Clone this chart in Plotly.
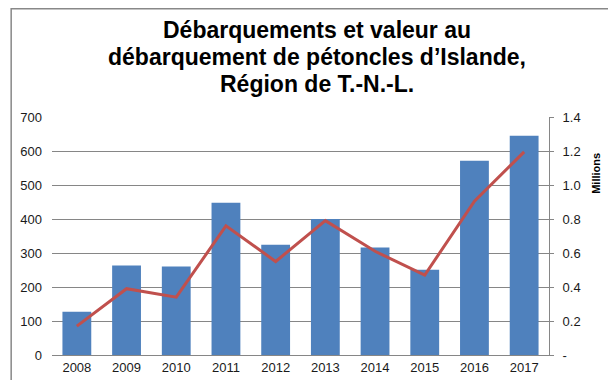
import plotly.graph_objects as go

years = ["2008", "2009", "2010", "2011", "2012", "2013", "2014", "2015", "2016", "2017"]
landings = [127, 263, 260, 448, 324, 400, 316, 251, 571, 645]
value_millions = [0.17, 0.39, 0.34, 0.76, 0.55, 0.79, 0.61, 0.47, 0.905, 1.195]
left_ticks = [0, 100, 200, 300, 400, 500, 600, 700]
right_ticks = [0, 0.2, 0.4, 0.6, 0.8, 1.0, 1.2, 1.4]
right_ticktext = ["-", "0.2", "0.4", "0.6", "0.8", "1.0", "1.2", "1.4"]
title_lines = ["Débarquements et valeur au",
               "débarquement de pétoncles d’Islande,",
               "Région de T.-N.-L."]

W, H = 616, 380
L, R, T, B = 42, 75, 109, 33
pw, ph = W - L - R, H - T - B


def px_x(x):
    return (x - L) / pw


def px_y(y):
    return (H - B - y) / ph


fig = go.Figure()
fig.add_trace(go.Bar(x=years, y=landings, marker=dict(color="#4F81BD", line=dict(width=0)),
                     yaxis="y", showlegend=False))
fig.add_trace(go.Scatter(x=years, y=value_millions, mode="lines",
                         line=dict(color="#C0504D", width=3), yaxis="y2", showlegend=False))

fam = "Liberation Sans, Arial, sans-serif"
font = dict(family=fam, size=13, color="#1a1a1a")

title_size = 23
title_baselines = [30.0, 57.0, 84.0]
annotations = []
for line, base in zip(title_lines, title_baselines):
    annotations.append(dict(text="<b>" + line + "</b>", xref="paper", yref="paper",
                            x=px_x(308), y=px_y(base - 0.36 * title_size),
                            xanchor="center", yanchor="middle", showarrow=False,
                            font=dict(family=fam, size=title_size, color="#000000")))
annotations.append(dict(text="<b>Millions</b>", textangle=-90, xref="paper", yref="paper",
                        x=px_x(588), y=px_y(165), xanchor="center", yanchor="middle",
                        showarrow=False,
                        font=dict(family=fam, size=11, color="#000000")))

fig.update_layout(
    width=W, height=H,
    margin=dict(l=L, r=R, t=T, b=B),
    paper_bgcolor="white", plot_bgcolor="white",
    bargap=0.42,
    font=font,
    xaxis=dict(showline=True, linecolor="#868686", linewidth=1, ticks="",
               showgrid=False, tickfont=font),
    yaxis=dict(range=[0, 700], tickvals=left_ticks, showgrid=True, gridcolor="#868686",
               gridwidth=1, showline=False, ticks="", zeroline=False, tickfont=font,
               ticklabelstandoff=9),
    yaxis2=dict(range=[0, 1.4], overlaying="y", side="right", tickvals=right_ticks,
                ticktext=right_ticktext, showgrid=False, showline=True, linecolor="#868686",
                linewidth=1, ticks="outside", ticklen=4, tickcolor="#868686",
                zeroline=False, tickfont=font, ticklabelstandoff=6),
    shapes=[dict(type="rect", xref="paper", yref="paper",
                 x0=px_x(1), x1=px_x(W - 1),
                 y0=px_y(H - 0.75), y1=px_y(0.75),
                 line=dict(color="#888888", width=1.5), layer="above")],
    annotations=annotations,
)

fig.write_html("out.html")
